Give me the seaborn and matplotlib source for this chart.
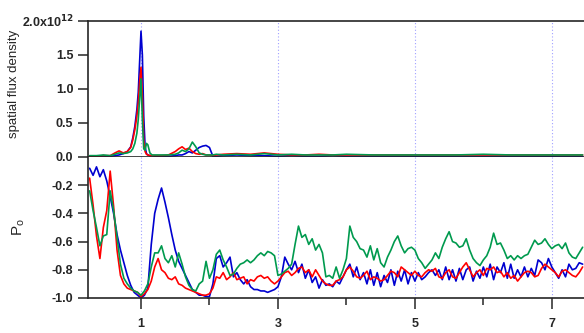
import numpy as np
import pandas as pd
import seaborn as sns
import matplotlib
matplotlib.use('Agg')
import matplotlib.pyplot as plt

# frequency grid of the polarisation panel (0.05 steps)
freq = np.round(np.arange(0.25, 7.451, 0.05), 2)

po_blue = [-0.08, -0.13, -0.07, -0.14, -0.09, -0.17, -0.28, -0.40, -0.55, -0.66,
           -0.75, -0.84, -0.91, -0.96, -0.98, -1.00, -0.98, -0.93, -0.62, -0.40,
           -0.30, -0.22, -0.32, -0.43, -0.55, -0.66, -0.74, -0.79, -0.84, -0.89,
           -0.94, -0.96, -0.98, -0.98, -0.99, -0.99, -0.90, -0.72, -0.70, -0.78,
           -0.75, -0.71, -0.85, -0.82, -0.87, -0.90, -0.87, -0.92, -0.94, -0.94,
           -0.95, -0.95, -0.96, -0.95, -0.94, -0.92, -0.85, -0.71, -0.76, -0.80,
           -0.74, -0.82, -0.76, -0.86, -0.80, -0.89, -0.85, -0.93, -0.87, -0.91,
           -0.90, -0.92, -0.88, -0.90, -0.85, -0.80, -0.76, -0.85, -0.78, -0.87,
           -0.82, -0.90, -0.80, -0.91, -0.82, -0.92, -0.84, -0.89, -0.80, -0.91,
           -0.81, -0.88, -0.80, -0.90, -0.82, -0.88, -0.82, -0.87, -0.85, -0.82,
           -0.80, -0.84, -0.80, -0.87, -0.78, -0.87, -0.80, -0.88, -0.79, -0.87,
           -0.80, -0.78, -0.88, -0.81, -0.86, -0.78, -0.85, -0.76, -0.87, -0.78,
           -0.82, -0.75, -0.86, -0.76, -0.86, -0.80, -0.85, -0.78, -0.85, -0.79,
           -0.84, -0.73, -0.75, -0.80, -0.72, -0.78, -0.82, -0.86, -0.80, -0.85,
           -0.76, -0.80, -0.79, -0.75, -0.76]

po_red = [-0.15, -0.34, -0.56, -0.72, -0.50, -0.38, -0.10, -0.35, -0.66, -0.84,
          -0.90, -0.93, -0.94, -0.95, -0.96, -0.99, -0.97, -0.94, -0.88, -0.78,
          -0.72, -0.80, -0.82, -0.86, -0.87, -0.85, -0.90, -0.91, -0.93, -0.94,
          -0.95, -0.96, -0.97, -0.98, -0.98, -0.97, -0.93, -0.85, -0.86, -0.82,
          -0.87, -0.85, -0.82, -0.87, -0.86, -0.85, -0.90, -0.87, -0.88, -0.85,
          -0.84, -0.86, -0.85, -0.88, -0.90, -0.88, -0.85, -0.82, -0.81, -0.84,
          -0.82, -0.79, -0.78, -0.82, -0.80, -0.85, -0.80, -0.84, -0.88, -0.90,
          -0.91, -0.91, -0.88, -0.87, -0.85, -0.80, -0.78, -0.81, -0.85, -0.86,
          -0.84, -0.81, -0.87, -0.85, -0.86, -0.88, -0.87, -0.84, -0.81, -0.82,
          -0.85, -0.78, -0.80, -0.82, -0.84, -0.81, -0.84, -0.85, -0.82, -0.80,
          -0.81, -0.79, -0.85, -0.86, -0.82, -0.80, -0.85, -0.86, -0.82, -0.78,
          -0.75, -0.80, -0.85, -0.82, -0.80, -0.84, -0.79, -0.80, -0.78, -0.82,
          -0.81, -0.85, -0.82, -0.86, -0.84, -0.88, -0.85, -0.82, -0.81, -0.82,
          -0.85, -0.84, -0.79, -0.76, -0.78, -0.80, -0.82, -0.85, -0.81, -0.80,
          -0.82, -0.84, -0.85, -0.82, -0.78]

po_green = [-0.24, -0.38, -0.50, -0.63, -0.56, -0.55, -0.24, -0.38, -0.57, -0.76,
            -0.86, -0.90, -0.93, -0.95, -0.96, -0.98, -0.95, -0.90, -0.78, -0.68,
            -0.68, -0.63, -0.72, -0.75, -0.70, -0.78, -0.68, -0.76, -0.85, -0.91,
            -0.94, -0.95, -0.90, -0.88, -0.74, -0.86, -0.80, -0.69, -0.66, -0.73,
            -0.78, -0.84, -0.83, -0.79, -0.76, -0.75, -0.73, -0.75, -0.73, -0.70,
            -0.68, -0.70, -0.67, -0.68, -0.70, -0.84, -0.83, -0.81, -0.79, -0.76,
            -0.62, -0.49, -0.57, -0.55, -0.62, -0.58, -0.66, -0.62, -0.68, -0.85,
            -0.84, -0.86, -0.78, -0.86, -0.80, -0.72, -0.49, -0.57, -0.60, -0.65,
            -0.66, -0.71, -0.63, -0.73, -0.65, -0.75, -0.78, -0.71, -0.66, -0.60,
            -0.56, -0.63, -0.68, -0.65, -0.64, -0.66, -0.72, -0.75, -0.79, -0.76,
            -0.73, -0.68, -0.72, -0.64, -0.58, -0.53, -0.60, -0.61, -0.64, -0.63,
            -0.58, -0.66, -0.72, -0.75, -0.77, -0.73, -0.70, -0.64, -0.54, -0.62,
            -0.61, -0.66, -0.72, -0.70, -0.73, -0.70, -0.72, -0.70, -0.69, -0.64,
            -0.59, -0.62, -0.61, -0.58, -0.62, -0.65, -0.63, -0.62, -0.65, -0.61,
            -0.68, -0.71, -0.72, -0.68, -0.64]

# flux density panel, in units of 1e12
freq_psd = [0.25, 0.35, 0.45, 0.55, 0.62, 0.68, 0.74, 0.80, 0.85, 0.88,
            0.91, 0.94, 0.96, 0.98, 1.00, 1.02, 1.04, 1.06, 1.08, 1.10,
            1.13, 1.16, 1.20, 1.30, 1.40, 1.50, 1.55, 1.60, 1.65, 1.70,
            1.75, 1.80, 1.85, 1.90, 1.95, 2.00, 2.05, 2.10, 2.20, 2.40,
            2.60, 2.80, 3.00, 3.20, 3.40, 3.60, 3.80, 4.00, 4.40, 4.80,
            5.20, 5.60, 6.00, 6.40, 6.80, 7.20, 7.45]

psd_blue = [0.01, 0.01, 0.00, 0.01, 0.02, 0.03, 0.05, 0.08, 0.15, 0.28,
            0.45, 0.70, 0.95, 1.40, 1.85, 1.50, 0.60, 0.15, 0.05, 0.03,
            0.02, 0.02, 0.01, 0.01, 0.01, 0.02, 0.03, 0.03, 0.05, 0.08,
            0.06, 0.10, 0.14, 0.16, 0.17, 0.14, 0.01, 0.01, 0.02, 0.03,
            0.02, 0.02, 0.01, 0.02, 0.01, 0.01, 0.02, 0.01, 0.01, 0.01,
            0.01, 0.01, 0.01, 0.01, 0.01, 0.01, 0.01]

psd_red = [0.01, 0.01, 0.02, 0.02, 0.06, 0.09, 0.06, 0.08, 0.14, 0.25,
           0.40, 0.60, 0.80, 1.10, 1.32, 0.90, 0.25, 0.08, 0.04, 0.03,
           0.02, 0.02, 0.02, 0.02, 0.03, 0.08, 0.12, 0.15, 0.11, 0.13,
           0.08, 0.05, 0.04, 0.05, 0.03, 0.03, 0.02, 0.03, 0.04, 0.05,
           0.04, 0.06, 0.04, 0.03, 0.03, 0.04, 0.03, 0.03, 0.03, 0.03,
           0.03, 0.03, 0.03, 0.03, 0.03, 0.03, 0.03]

psd_green = [0.02, 0.02, 0.03, 0.02, 0.04, 0.06, 0.05, 0.06, 0.08, 0.12,
             0.20, 0.35, 0.55, 0.85, 1.15, 0.55, 0.12, 0.10, 0.20, 0.18,
             0.06, 0.03, 0.03, 0.03, 0.03, 0.04, 0.06, 0.10, 0.08, 0.12,
             0.22, 0.15, 0.06, 0.04, 0.03, 0.03, 0.03, 0.04, 0.03, 0.04,
             0.03, 0.05, 0.03, 0.04, 0.03, 0.03, 0.03, 0.04, 0.03, 0.03,
             0.03, 0.03, 0.04, 0.03, 0.03, 0.03, 0.03]

psd_ticks = [0.0, 0.5, 1.0, 1.5, 2.0]
psd_labels = ['0.0', '0.5', '1.0', '1.5', '2.0x10$^{\\mathbf{12}}$']
po_ticks = [-1.0, -0.8, -0.6, -0.4, -0.2]
x_major = [1, 3, 5, 7]
x_minor = [2, 4, 6]

colors = ['#0000d0', '#ff0000', '#009a4e']

sns.set_style('ticks')
plt.rcParams['font.family'] = ['Liberation Sans', 'DejaVu Sans']
plt.rcParams['mathtext.default'] = 'regular'

fig = plt.figure(figsize=(5.84, 3.33), dpi=100)
ax1 = fig.add_axes([88/584, 1-157/333, 1-88/584, 136/333])
ax2 = fig.add_axes([88/584, 1-298/333, 1-88/584, 141/333])

for ax in (ax1, ax2):
    for xv in x_major:
        ax.axvline(xv, color='#a0a0ff', ls=(0, (1, 2)), lw=0.8, zorder=0.5)

for ys, c in zip([psd_blue, psd_red, psd_green], colors):
    sns.lineplot(x=freq_psd, y=ys, color=c, lw=1.2, ax=ax1, estimator=None)
for ys, c in zip([po_blue, po_red, po_green], colors):
    sns.lineplot(x=freq, y=ys, color=c, lw=1.2, ax=ax2, estimator=None)

for ax in (ax1, ax2):
    ax.set_xlim(0.226, 7.47)
    ax.spines['right'].set_visible(False)
    for s in ('left', 'bottom', 'top'):
        ax.spines[s].set_linewidth(1.2)
    ax.tick_params(axis='y', length=7.5, width=1.1, pad=3, labelsize=9)
    for lab in ax.get_yticklabels():
        lab.set_fontweight('bold')

ax2.spines['top'].set_visible(False)

ax1.set_ylim(0, 2.0)
ax1.set_yticks(psd_ticks)
ax1.set_yticklabels(psd_labels, fontweight='bold', fontsize=9)
ax1.tick_params(axis='x', bottom=False, labelbottom=False)
ax1.set_xlabel('')
ax1.set_ylabel('spatial flux density', fontsize=9.5)
ax1.yaxis.set_label_coords(-0.137, 0.54)

ax2.set_ylim(-1.0, 0.0)
ax2.set_yticks(po_ticks)
ax2.set_yticklabels([f'{t:.1f}' for t in po_ticks], fontweight='bold', fontsize=9)
ax2.set_xticks(x_major)
ax2.set_xticklabels([str(v) for v in x_major], fontweight='bold', fontsize=9)
ax2.set_xticks(x_minor, minor=True)
ax2.tick_params(axis='x', which='major', length=8, width=1.1, pad=6.5)
ax2.tick_params(axis='x', which='minor', length=5, width=1.1)
ax2.set_xlabel('')
ax2.set_ylabel('P$_o$', fontsize=11)
ax2.yaxis.set_label_coords(-0.123, 0.5)

fig.savefig('out.png', dpi=100)
